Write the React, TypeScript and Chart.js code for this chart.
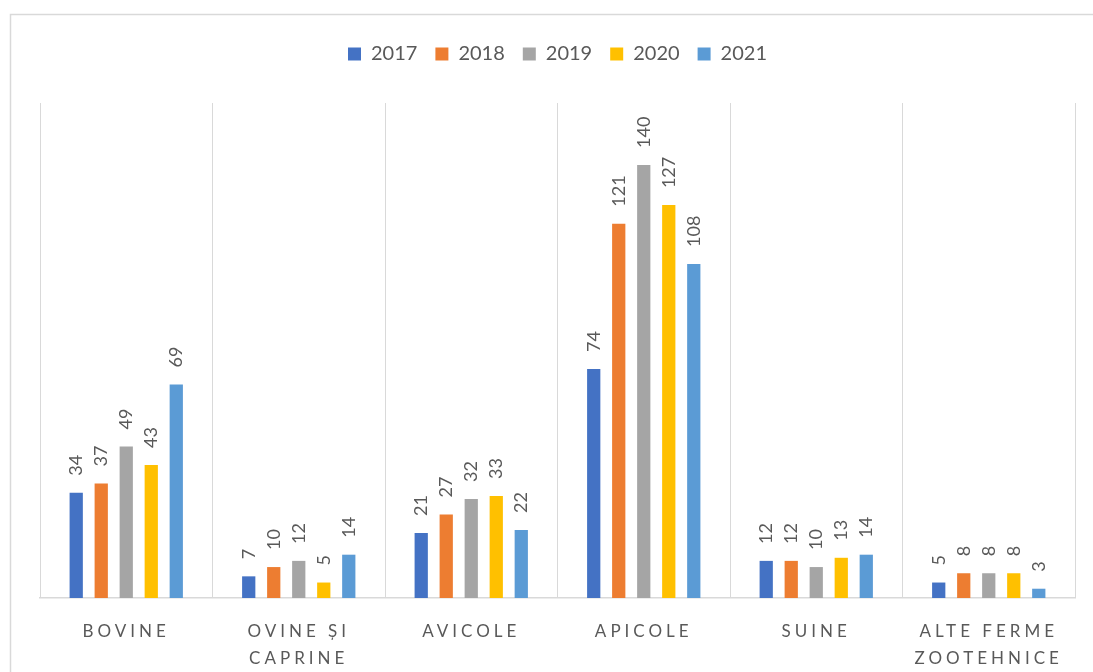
import React, { useEffect, useRef } from "react";
import { Chart, registerables, CategoryScale } from "chart.js";

Chart.register(...registerables);

class SpacedCategoryScale extends CategoryScale {
  static id = "spacedCategory";
  static defaults = CategoryScale.defaults;
  drawLabels(chartArea: any) {
    const ctx = (this as any).ctx as CanvasRenderingContext2D;
    ctx.save();
    (ctx as any).letterSpacing = "4px";
    super.drawLabels(chartArea);
    ctx.restore();
  }
}
Chart.register(SpacedCategoryScale as any);

const categories: (string | string[])[] = [
  "BOVINE",
  ["OVINE ȘI", "CAPRINE"],
  "AVICOLE",
  "APICOLE",
  "SUINE",
  ["ALTE FERME", "ZOOTEHNICE"],
];

const seriesNames = ["2017", "2018", "2019", "2020", "2021"];
const values2017 = [34, 7, 21, 74, 12, 5];
const values2018 = [37, 10, 27, 121, 12, 8];
const values2019 = [49, 12, 32, 140, 10, 8];
const values2020 = [43, 5, 33, 127, 13, 8];
const values2021 = [69, 14, 22, 108, 14, 3];
const seriesColors = ["#4472C4", "#ED7D31", "#A5A5A5", "#FFC000", "#5B9BD5"];

const FONT = "Lato, 'Open Sans', sans-serif";
const TEXT = "#595959";

const frame = {
  id: "frame",
  beforeDraw(chart: any) {
    const ctx = chart.ctx as CanvasRenderingContext2D;
    ctx.save();
    ctx.fillStyle = "#ffffff";
    ctx.fillRect(0, 0, chart.width, chart.height);
    ctx.strokeStyle = "#d9d9d9";
    ctx.lineWidth = 1.5;
    ctx.strokeRect(10.5, 14.5, chart.width + 20, chart.height + 20);
    ctx.restore();
  },
};

const legendSpacer = {
  id: "legendSpacer",
  beforeInit(chart: any) {
    const legend = chart.legend;
    if (!legend) return;
    const origFit = legend.fit;
    legend.fit = function () {
      origFit.call(this);
      this.height += 29;
    };
  },
};

const dataLabels = {
  id: "dataLabels",
  afterDatasetsDraw(chart: any) {
    const ctx = chart.ctx as CanvasRenderingContext2D;
    ctx.save();
    ctx.font = `18px ${FONT}`;
    ctx.fillStyle = TEXT;
    ctx.textAlign = "left";
    ctx.textBaseline = "middle";
    chart.data.datasets.forEach((ds: any, i: number) => {
      const meta = chart.getDatasetMeta(i);
      meta.data.forEach((bar: any, j: number) => {
        ctx.save();
        ctx.translate(bar.x, bar.y - 17);
        ctx.rotate(-Math.PI / 2);
        ctx.fillText(String(ds.data[j]), 0, 0);
        ctx.restore();
      });
    });
    ctx.restore();
  },
};

export default function App() {
  const ref = useRef<HTMLCanvasElement>(null);

  useEffect(() => {
    document.body.style.margin = "0";
    const allValues = [values2017, values2018, values2019, values2020, values2021];
    const chart = new Chart(ref.current!, {
      type: "bar",
      data: {
        labels: categories,
        datasets: seriesNames.map((name, i) => ({
          label: name,
          data: allValues[i],
          backgroundColor: seriesColors[i],
          categoryPercentage: 0.725,
          barPercentage: 0.53,
        })),
      },
      options: {
        animation: false,
        responsive: false,
        layout: { padding: { top: 26, left: 40, right: 18, bottom: 0 } },
        plugins: {
          legend: {
            position: "top",
            labels: {
              boxWidth: 13,
              boxHeight: 13,
              padding: 18,
              color: TEXT,
              font: { family: FONT, size: 20 },
            },
          },
          tooltip: { enabled: false },
        },
        scales: {
          x: {
            type: "spacedCategory" as any,
            afterFit: (scale: any) => {
              scale.height = 74;
            },
            grid: {
              display: true,
              offset: true,
              color: "#d9d9d9",
              lineWidth: 1,
              drawTicks: false,
            },
            border: { display: true, color: "#d9d9d9", width: 1.5 },
            ticks: {
              color: TEXT,
              font: { family: FONT, size: 17, lineHeight: 1.6 },
              padding: 20,
              maxRotation: 0,
              minRotation: 0,
              autoSkip: false,
            },
          },
          y: {
            display: false,
            min: 0,
            max: 160,
          },
        },
      },
      plugins: [frame, legendSpacer, dataLabels],
    });
    return () => chart.destroy();
  }, []);

  return <canvas ref={ref} width={1093} height={672} style={{ display: "block" }} />;
}
